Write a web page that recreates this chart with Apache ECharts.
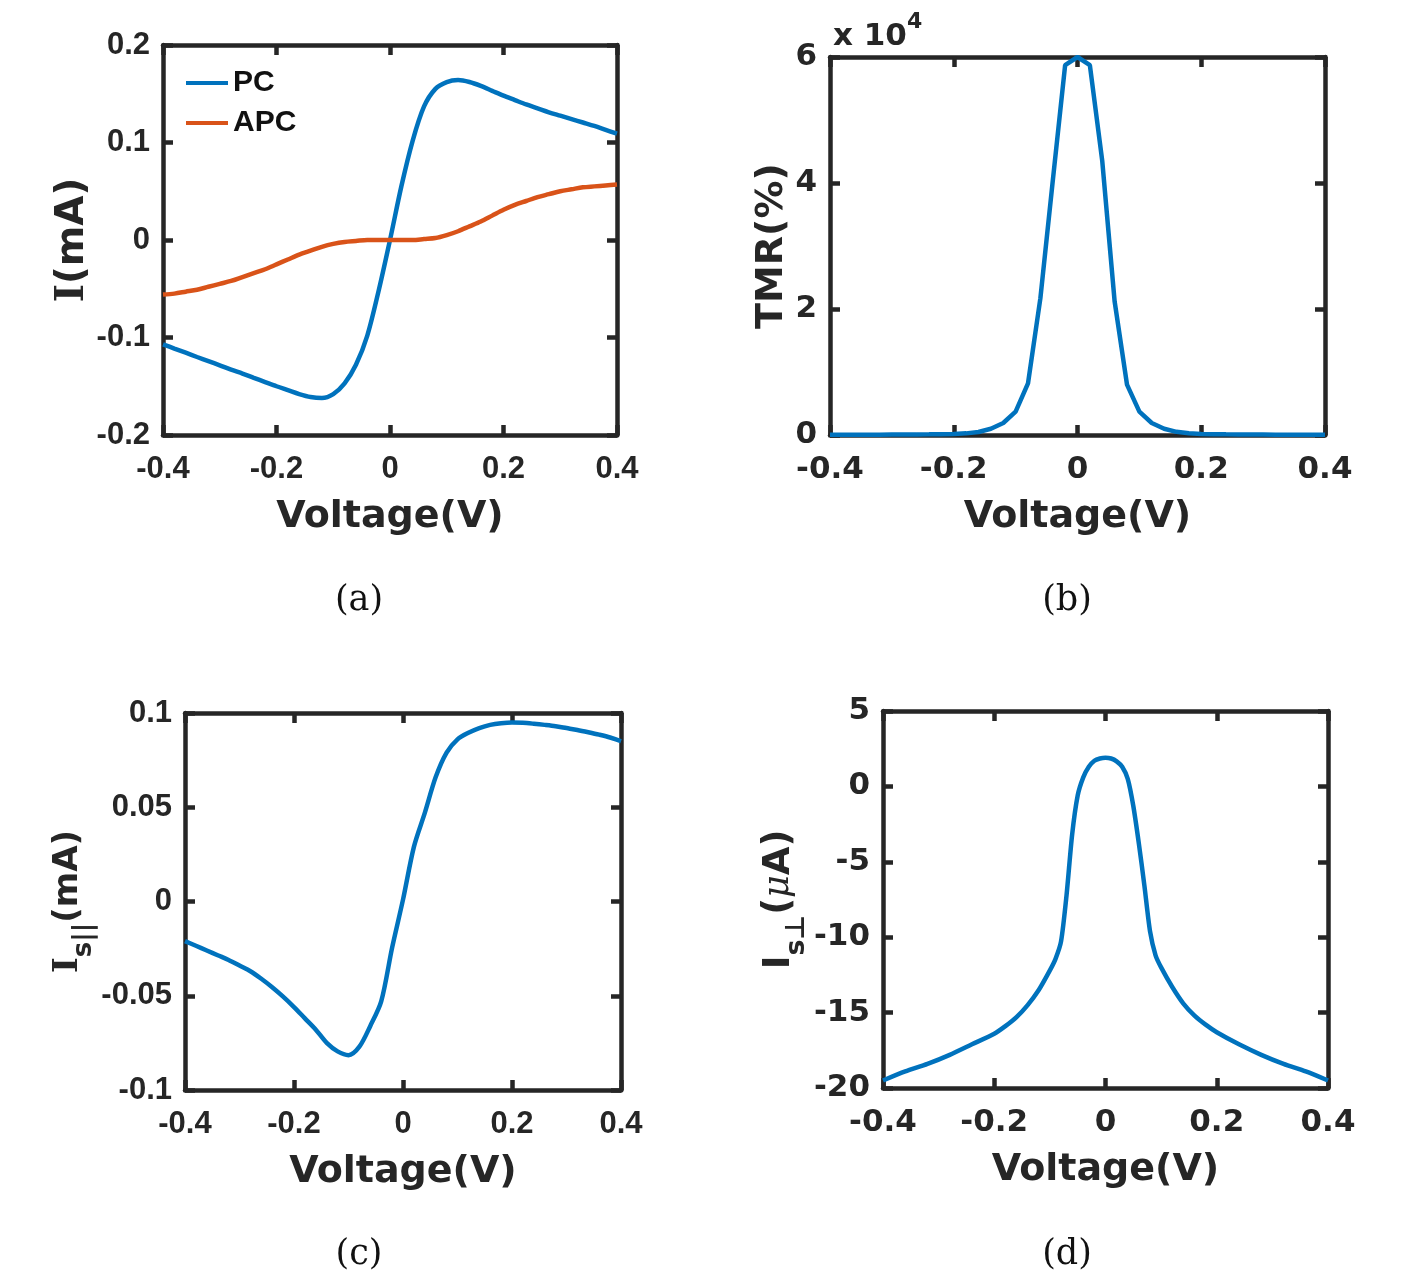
<!DOCTYPE html>
<html>
<head>
<meta charset="utf-8">
<title>Junction I-V, TMR and spin currents</title>
<script src="https://cdn.jsdelivr.net/npm/echarts@6/dist/echarts.min.js"></script>
<style>
  html, body { margin: 0; padding: 0; background: #fff; }
  #chart { width: 1426px; height: 1285px; }
</style>
</head>
<body>
<div id="chart"></div>
<script>
// bias voltage (V), shared by panels a-c
const voltage = [
  -0.40, -0.38, -0.36, -0.34, -0.32, -0.30, -0.28, -0.26, -0.24, -0.22,
  -0.20, -0.18, -0.16, -0.14, -0.12, -0.10, -0.08, -0.06, -0.04, -0.02,
  0.00, 0.02, 0.04, 0.06, 0.08, 0.10, 0.12, 0.14, 0.16, 0.18,
  0.20, 0.22, 0.24, 0.26, 0.28, 0.30, 0.32, 0.34, 0.36, 0.38, 0.40
]
// (a) charge current, mA
const currentPC = [
  -0.107, -0.1113, -0.1156, -0.120, -0.1242, -0.1285, -0.133, -0.137, -0.1414, -0.1457,
  -0.150, -0.154, -0.158, -0.161, -0.162, -0.158, -0.147, -0.128, -0.098, -0.052,
  0.000, 0.055, 0.102, 0.137, 0.155, 0.162, 0.164, 0.162, 0.158, 0.153,
  0.148, 0.1435, 0.139, 0.135, 0.131, 0.1275, 0.124, 0.1205, 0.117, 0.113, 0.109
]
const currentAPC = [
  -0.056, -0.055, -0.053, -0.051, -0.048, -0.045, -0.042, -0.038, -0.034, -0.030,
  -0.025, -0.020, -0.015, -0.011, -0.007, -0.004, -0.002, -0.001, 0.000, 0.000,
  0.000, 0.000, 0.000, 0.001, 0.002, 0.005, 0.009, 0.014, 0.019, 0.025,
  0.031, 0.036, 0.040, 0.044, 0.047, 0.050, 0.052, 0.054, 0.055, 0.056, 0.057
]
// (b) TMR, %
const tmr = [
  30, 35, 40, 45, 50, 60, 70, 85, 100, 130,
  170, 260, 480, 1000, 1900, 3700, 8200, 21700, 40300, 58700,
  60000, 58700, 43500, 21200, 8000, 3700, 1900, 1000, 500, 270,
  170, 130, 100, 80, 70, 60, 50, 45, 40, 35, 30
]
// (c) in-plane spin current, mA
const spinParallel = [
  -0.021, -0.0235, -0.026, -0.0285, -0.031, -0.034, -0.037, -0.041, -0.0455, -0.0505,
  -0.056, -0.062, -0.068, -0.075, -0.0795, -0.0815, -0.077, -0.066, -0.053, -0.0245,
  0.001, 0.029, 0.047, 0.066, 0.079, 0.086, 0.0895, 0.092, 0.0937, 0.0946,
  0.095, 0.0948, 0.0943, 0.0937, 0.093, 0.092, 0.091, 0.0898, 0.0885, 0.087, 0.085
]
// (d) out-of-plane spin current, uA (finer steps near zero bias)
const voltagePerp = [
  -0.40, -0.36, -0.32, -0.28, -0.24, -0.20, -0.18, -0.16, -0.14, -0.12,
  -0.10, -0.09, -0.08, -0.07, -0.06, -0.05, -0.04, -0.03, -0.02, -0.01,
  0.00, 0.01, 0.02, 0.03, 0.04, 0.05, 0.06, 0.07, 0.08, 0.09,
  0.10, 0.12, 0.14, 0.16, 0.18, 0.20, 0.24, 0.28, 0.32, 0.36, 0.40
]
const spinPerp = [
  -19.5, -18.9, -18.4, -17.8, -17.1, -16.4, -15.9, -15.3, -14.5, -13.5,
  -12.2, -11.45, -10.3, -7.2, -3.2, -0.6, 0.6, 1.3, 1.7, 1.85,
  1.9, 1.85, 1.66, 1.3, 0.5, -1.3, -3.8, -6.6, -9.6, -11.2,
  -12.0, -13.3, -14.4, -15.2, -15.8, -16.3, -17.1, -17.8, -18.4, -18.9, -19.5
]
const captions = ['(a)', '(b)', '(c)', '(d)']

const INK = '#262626'
const BLUE = '#0072BD'
const ORANGE = '#D95319'
const SANS = 'DejaVu Sans'
const ARIAL = 'Liberation Sans'

const pairs = (xs, ys) => xs.map((x, i) => [x, ys[i]])

const grids = [
  { left: 163, top: 45, width: 454, height: 390 },
  { left: 830, top: 57, width: 495, height: 378 },
  { left: 185, top: 713, width: 436, height: 377 },
  { left: 883, top: 711, width: 445, height: 377 }
]

const frameLine = { show: true, onZero: false, lineStyle: { color: INK, width: 4.5 } }
const frameTick = { show: true, inside: true, length: 10, lineStyle: { color: INK, width: 4.5 } }

function xAxes(grid, font) {
  const base = {
    type: 'value', gridIndex: grid, min: -0.4, max: 0.4, interval: 0.2,
    axisLine: frameLine, axisTick: frameTick, splitLine: { show: false }
  }
  return [
    {
      ...base, position: 'bottom',
      name: 'Voltage(V)', nameLocation: 'middle', nameGap: 63,
      nameTextStyle: { color: INK, fontFamily: SANS, fontWeight: 'bold', fontSize: 38 },
      axisLabel: { margin: 19, color: INK, fontFamily: font.family, fontWeight: 'bold', fontSize: font.size }
    },
    { ...base, position: 'top', axisLabel: { show: false } }
  ]
}

function yAxes(grid, range, font, name, extra) {
  const base = {
    type: 'value', gridIndex: grid, min: range[0], max: range[1], interval: range[2],
    axisLine: frameLine, axisTick: frameTick, splitLine: { show: false }
  }
  return [
    {
      ...base, position: 'left',
      name: name.text, nameLocation: 'middle', nameGap: name.gap,
      nameTextStyle: name.style,
      axisLabel: {
        margin: 13, color: INK, fontFamily: font.family, fontWeight: 'bold', fontSize: font.size,
        formatter: extra && extra.formatter
      }
    },
    { ...base, position: 'right', axisLabel: { show: false } }
  ]
}

const nameBase = { color: INK, fontFamily: SANS, fontWeight: 'bold' }

const yNames = [
  {
    text: '{i|I}(mA)', gap: 50,
    style: { ...nameBase, fontSize: 39, rich: { i: { fontFamily: 'DejaVu Serif', fontWeight: 'bold', fontSize: 39, color: INK } } }
  },
  { text: 'TMR(%)', gap: 22, style: { ...nameBase, fontSize: 38 } },
  {
    text: '{i|I}{s|s||}{m|(mA)}', gap: 90,
    style: {
      ...nameBase, fontSize: 34,
      rich: {
        i: { fontFamily: 'DejaVu Serif', fontWeight: 'bold', fontSize: 34, lineHeight: 36, verticalAlign: 'top', color: INK },
        s: { fontFamily: SANS, fontWeight: 'bold', fontSize: 26, lineHeight: 26, verticalAlign: 'top', padding: [20, 0, 0, 0], color: INK },
        m: { fontFamily: SANS, fontWeight: 'bold', fontSize: 34, lineHeight: 36, verticalAlign: 'top', color: INK }
      }
    }
  },
  {
    text: '{m|I}{s|s\u22a5}{m|(}{mu|\u03bc}{m|A)}', gap: 80,
    style: {
      ...nameBase, fontSize: 37,
      rich: {
        m: { fontFamily: SANS, fontWeight: 'bold', fontSize: 37, lineHeight: 40, verticalAlign: 'top', color: INK },
        s: { fontFamily: SANS, fontWeight: 'bold', fontSize: 27, lineHeight: 27, verticalAlign: 'top', padding: [22, 0, 0, 0], color: INK },
        mu: { fontFamily: 'DejaVu Serif', fontStyle: 'italic', fontWeight: 'normal', fontSize: 35, lineHeight: 40, verticalAlign: 'top', color: INK }
      }
    }
  }
]

const smallFont = { family: ARIAL, size: 31 }
const bigFont = { family: SANS, size: 31 }

const lineSeries = (name, grid, data, color, smooth) => ({
  name, type: 'line', xAxisIndex: grid * 2, yAxisIndex: grid * 2,
  data, showSymbol: false, symbol: 'none', smooth, animation: false,
  lineStyle: { color, width: 4.5 }, itemStyle: { color }
})

const captionPos = [[359, 601], [1067, 601], [359, 1255], [1067, 1255]]

const option = {
  backgroundColor: '#fff',
  animation: false,
  grid: grids,
  xAxis: [
    ...xAxes(0, smallFont), ...xAxes(1, bigFont), ...xAxes(2, smallFont), ...xAxes(3, bigFont)
  ],
  yAxis: [
    ...yAxes(0, [-0.2, 0.2, 0.1], smallFont, yNames[0]),
    ...yAxes(1, [0, 60000, 20000], bigFont, yNames[1], { formatter: v => String(v / 10000) }),
    ...yAxes(2, [-0.1, 0.1, 0.05], smallFont, yNames[2]),
    ...yAxes(3, [-20, 5, 5], bigFont, yNames[3])
  ],
  legend: {
    data: ['PC', 'APC'], orient: 'vertical', left: 186, top: 68, padding: 0,
    icon: 'rect', itemWidth: 42, itemHeight: 4, itemGap: 10,
    textStyle: { color: '#111', fontFamily: ARIAL, fontWeight: 'bold', fontSize: 30, lineHeight: 30 }
  },
  series: [
    lineSeries('PC', 0, pairs(voltage, currentPC), BLUE, 0.3),
    lineSeries('APC', 0, pairs(voltage, currentAPC), ORANGE, 0.3),
    lineSeries('TMR', 1, pairs(voltage, tmr), BLUE, false),
    lineSeries('Is||', 2, pairs(voltage, spinParallel), BLUE, 0.3),
    lineSeries('Is_perp', 3, pairs(voltagePerp, spinPerp), BLUE, 0.25)
  ],
  graphic: [
    {
      type: 'text', x: 833, y: 11,
      style: {
        text: '{m|x 10}{s|4}', fill: INK,
        rich: {
          m: { fontFamily: SANS, fontWeight: 'bold', fontSize: 31, lineHeight: 31, verticalAlign: 'top', padding: [10, 0, 0, 0], fill: INK },
          s: { fontFamily: SANS, fontWeight: 'bold', fontSize: 22, lineHeight: 22, verticalAlign: 'top', fill: INK }
        }
      }
    },
    ...captions.map((c, i) => ({
      type: 'text', x: captionPos[i][0], y: captionPos[i][1],
      style: { text: c, fill: '#111', font: '35px "DejaVu Serif"', align: 'center', verticalAlign: 'middle' }
    }))
  ]
}

const chart = echarts.init(document.getElementById('chart'))
chart.setOption(option)
window.addEventListener('resize', () => chart.resize())
</script>
</body>
</html>
